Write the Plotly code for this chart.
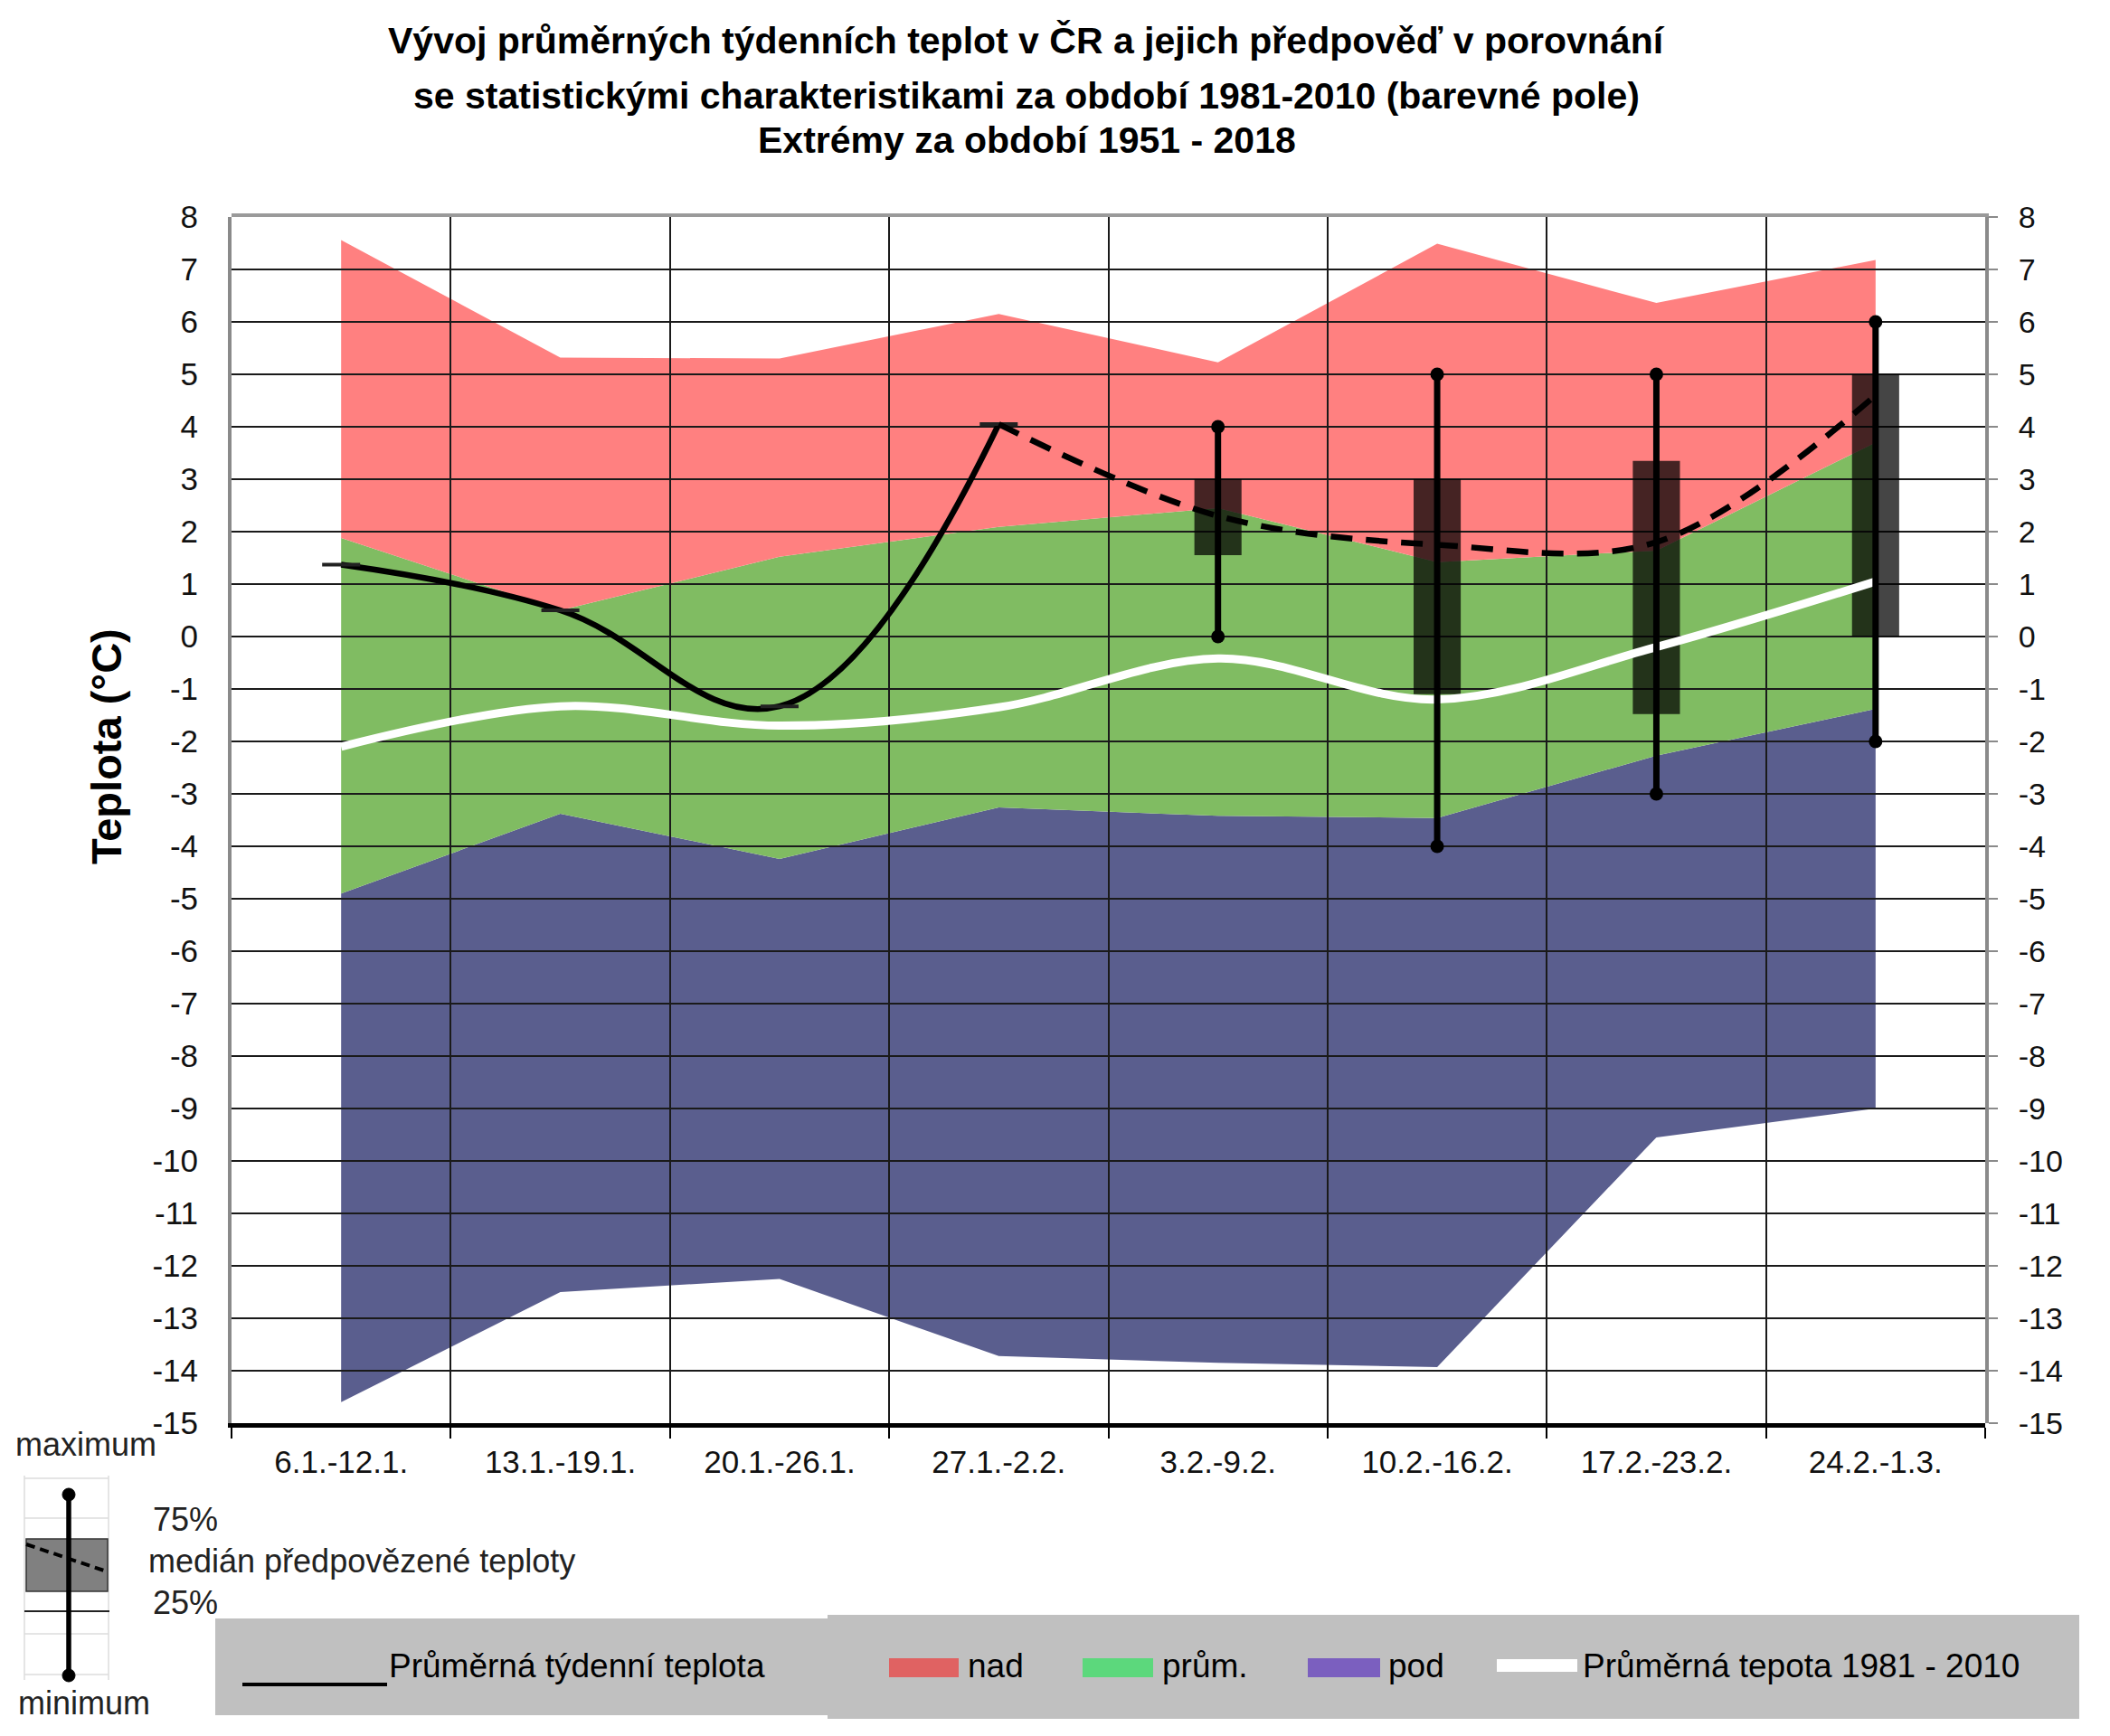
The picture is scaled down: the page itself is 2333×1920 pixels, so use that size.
import plotly.graph_objects as go

# ---------------- data ----------------
weeks = ["6.1.-12.1.", "13.1.-19.1.", "20.1.-26.1.", "27.1.-2.2.",
         "3.2.-9.2.", "10.2.-16.2.", "17.2.-23.2.", "24.2.-1.3."]

extreme_min = [-14.6, -12.5, -12.25, -13.72, -13.85, -13.93, -9.55, -9.0]
tercile_low = [-4.9, -3.38, -4.24, -3.26, -3.42, -3.46, -2.27, -1.38]
tercile_high = [1.88, 0.5, 1.52, 2.09, 2.45, 1.42, 1.64, 3.7]
extreme_max = [7.56, 5.32, 5.3, 6.15, 5.23, 7.49, 6.36, 7.18]

mean_1981_2010 = [-2.1, -1.33, -1.7, -1.35, -0.42, -1.2, -0.2, 1.05]

observed = [1.37, 0.5, -1.33, 4.05, None, None, None, None]
forecast_median = [None, None, None, 4.05, 2.3, 1.75, 1.8, 4.6]

fc_min = [None, None, None, None, 0.0, -4.0, -3.0, -2.0]
fc_q25 = [None, None, None, None, 1.55, -1.1, -1.48, 0.0]
fc_q75 = [None, None, None, None, 3.0, 3.0, 3.35, 5.0]
fc_max = [None, None, None, None, 4.0, 5.0, 5.0, 6.0]

y_ticks = list(range(-15, 9))
y_ticktext = [str(v) for v in y_ticks]

title_lines = [
    "Vývoj průměrných týdenních teplot v ČR a jejich předpověď v porovnání",
    "se statistickými charakteristikami za období 1981-2010 (barevné pole)",
    "Extrémy za období 1951 - 2018",
]
y_title = "Teplota (°C)"
legend_labels = ["Průměrná týdenní teplota", "nad", "prům.", "pod", "Průměrná tepota 1981 - 2010"]
key_labels = ["maximum", "75%", "medián předpovězené teploty", "25%", "minimum"]

# ---------------- styling ----------------
W, H = 2333, 1920
L, R, T, B = 256, 2195, 240, 1574
FONT = "Liberation Sans, Arial, sans-serif"
RED, GREEN, BLUE = "#FF8080", "#80BC62", "#5A5E8E"


def fx(px):
    return (px - L) / (R - L)


def fy(py):
    return (B - py) / (B - T)


def pick(vals):
    xs, ys = [], []
    for w, v in zip(weeks, vals):
        if v is not None:
            xs.append(w)
            ys.append(v)
    return xs, ys


fig = go.Figure()

# ---- coloured fields (lower subplot, below grid) ----
fig.add_trace(go.Scatter(x=weeks, y=extreme_min, mode="lines", line=dict(width=0),
                         hoverinfo="skip", xaxis="x", yaxis="y"))
fig.add_trace(go.Scatter(x=weeks, y=tercile_low, mode="lines", line=dict(width=0),
                         fill="tonexty", fillcolor=BLUE, xaxis="x", yaxis="y"))
fig.add_trace(go.Scatter(x=weeks, y=tercile_high, mode="lines", line=dict(width=0),
                         fill="tonexty", fillcolor=GREEN, xaxis="x", yaxis="y"))
fig.add_trace(go.Scatter(x=weeks, y=extreme_max, mode="lines", line=dict(width=0),
                         fill="tonexty", fillcolor=RED, xaxis="x", yaxis="y"))

# ---- upper subplot (above grid) ----
fx_w, q25 = pick(fc_q25)
_, q75 = pick(fc_q75)
fig.add_trace(go.Bar(x=fx_w, y=[b - a for a, b in zip(q25, q75)], base=q25, width=0.215,
                     marker=dict(color="rgba(0,0,0,0.73)", line=dict(width=0)),
                     xaxis="x2", yaxis="y2"))

fig.add_trace(go.Scatter(x=weeks, y=mean_1981_2010, mode="lines",
                         line=dict(color="white", width=9, shape="spline", smoothing=1),
                         xaxis="x2", yaxis="y2"))

wx, wy = [], []
for w, a, b in zip(weeks, fc_min, fc_max):
    if a is not None:
        wx += [w, w, None]
        wy += [a, b, None]
fig.add_trace(go.Scatter(x=wx, y=wy, mode="lines+markers",
                         line=dict(color="black", width=7),
                         marker=dict(color="black", size=15),
                         xaxis="x2", yaxis="y2"))

ox, oy = pick(observed)
fig.add_trace(go.Scatter(x=ox, y=oy, mode="lines+markers",
                         line=dict(color="black", width=6.5, shape="spline", smoothing=1.15),
                         marker=dict(symbol="line-ew", size=30, line=dict(color="#222222", width=4)),
                         xaxis="x2", yaxis="y2"))

mx, my = pick(forecast_median)
fig.add_trace(go.Scatter(x=mx, y=my, mode="lines",
                         line=dict(color="black", width=6.5, dash="24px,15px", shape="spline", smoothing=1),
                         xaxis="x2", yaxis="y2"))

tickfont = dict(family=FONT, size=35, color="#111111")

fig.update_layout(
    width=W, height=H, autosize=False,
    margin=dict(l=L, r=W - R, t=T, b=H - B, pad=0),
    paper_bgcolor="white", plot_bgcolor="rgba(0,0,0,0)",
    showlegend=False,
    xaxis=dict(domain=[0, 1], anchor="y", type="category", categoryorder="array",
               categoryarray=weeks, range=[-0.5, 7.5], showgrid=False, zeroline=False,
               showline=True, linecolor="black", linewidth=5,
               ticks="outside", tickson="boundaries", ticklen=12, tickwidth=2, tickcolor="black",
               tickfont=tickfont, ticklabelstandoff=8),
    yaxis=dict(domain=[0, 1], anchor="x", range=[-15, 8], tickvals=y_ticks, ticktext=y_ticktext,
               showgrid=False, zeroline=False, showline=True, linecolor="#8a8a8a", linewidth=4,
               ticks="", tickfont=tickfont, ticklabelstandoff=26),
    xaxis2=dict(domain=[0, 1], anchor="y2", side="top", type="category", categoryorder="array",
                categoryarray=weeks, range=[-0.5, 7.5], showgrid=True, gridcolor="#1a1a1a",
                gridwidth=2, tickson="boundaries", ticks="", showticklabels=False, zeroline=False,
                showline=True, linecolor="#9a9a9a", linewidth=4),
    yaxis2=dict(domain=[0, 1], anchor="x2", side="right", range=[-15, 8], tickvals=y_ticks,
                ticktext=y_ticktext, showgrid=True, gridcolor="#1a1a1a", gridwidth=2,
                zeroline=False, showline=True, linecolor="#8a8a8a", linewidth=4,
                ticks="outside", ticklen=10, tickwidth=2, tickcolor="#8a8a8a",
                tickfont=dict(family=FONT, size=34, color="#111111"), ticklabelstandoff=16),
)

ann = []
# titles
for text, cy in zip(title_lines, [45, 106, 155]):
    ann.append(dict(text="<b>%s</b>" % text, x=fx(1135), y=fy(cy), xref="paper", yref="paper",
                    xanchor="center", yanchor="middle", showarrow=False,
                    font=dict(family=FONT, size=41, color="black")))
ann.append(dict(text="<b>%s</b>" % y_title, x=fx(117), y=fy(826), xref="paper", yref="paper",
                xanchor="center", yanchor="middle", textangle=-90, showarrow=False,
                font=dict(family=FONT, size=47, color="black")))

lf = dict(family=FONT, size=37, color="black")
for text, lx in zip(legend_labels, [428, 1068, 1283, 1533, 1748]):
    ann.append(dict(text=text, x=fx(lx), y=fy(1842), xref="paper", yref="paper",
                    xanchor="left", yanchor="middle", showarrow=False, font=lf))

kf = dict(family=FONT, size=36, color="#222222")
for text, lx, cy in zip(key_labels, [15, 167, 162, 167, 18], [1597, 1681, 1726, 1772, 1883]):
    ann.append(dict(text=text, x=fx(lx), y=fy(cy), xref="paper", yref="paper",
                    xanchor="left", yanchor="middle", showarrow=False, font=kf))

shapes = []


def rect(x0, y0, x1, y1, fill, line_color=None, lw=0):
    shapes.append(dict(type="rect", xref="paper", yref="paper", x0=fx(x0), x1=fx(x1),
                       y0=fy(y1), y1=fy(y0), fillcolor=fill,
                       line=dict(color=line_color or fill, width=lw)))


def seg(x0, y0, x1, y1, color, w, dash=None):
    d = dict(color=color, width=w)
    if dash:
        d["dash"] = dash
    shapes.append(dict(type="line", xref="paper", yref="paper", x0=fx(x0), x1=fx(x1),
                       y0=fy(y0), y1=fy(y1), line=d))


# legend band
rect(238, 1790, 915, 1897, "#C0C0C0")
rect(915, 1786, 2299, 1901, "#C0C0C0")
seg(268, 1863, 428, 1863, "black", 4)
rect(983, 1834, 1060, 1855, "#E06262")
rect(1197, 1834, 1275, 1855, "#5CD87C")
rect(1446, 1834, 1526, 1855, "#7B5FBF")
seg(1655, 1842, 1744, 1842, "white", 14)

# box/whisker key
for gy in [1635, 1679, 1807, 1852]:
    seg(27, gy, 120, gy, "#dddddd", 1.5)
seg(27, 1632, 27, 1858, "#dddddd", 1.5)
seg(120, 1632, 120, 1858, "#dddddd", 1.5)
seg(27, 1782, 121, 1782, "#222222", 2)
rect(29, 1702, 119, 1760, "#808080", "#333333", 1.5)
seg(29, 1708, 118, 1738, "black", 4, dash="10px,6px")
seg(76, 1653, 76, 1853, "black", 5.5)
for cy in [1653, 1853]:
    shapes.append(dict(type="circle", xref="paper", yref="paper", x0=fx(69), x1=fx(83),
                       y0=fy(cy + 7), y1=fy(cy - 7), fillcolor="black", line=dict(color="black", width=1)))

fig.update_layout(annotations=ann, shapes=shapes)
fig.write_html("out.html")
